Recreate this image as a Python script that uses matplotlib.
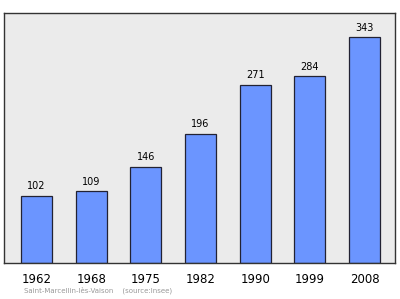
import numpy as np
import matplotlib.pyplot as plt

years = ['1962', '1968', '1975', '1982', '1990', '1999', '2008']
population = [102, 109, 146, 196, 271, 284, 343]

ind = np.arange(len(years))

fig = plt.figure(figsize=(4, 2.99), dpi=100)
ax = fig.add_axes([0.01, 0.1204, 0.9775, 0.8361])
ax.set_facecolor('#ebebeb')

ax.bar(ind, population, 0.57, color='#6b95ff', edgecolor='#222233', linewidth=0.9)

for x, v in zip(ind, population):
    ax.text(x, v + 7, str(v), ha='center', va='bottom', fontsize=7)

ax.set_xlim(-0.594, 6.558)
ax.set_ylim(0, 380)
ax.set_yticks([])
ax.set_xticks(ind)
ax.set_xticklabels(years, fontsize=8.5)
ax.tick_params(axis='x', length=0, pad=7)
for s in ax.spines.values():
    s.set_color('#333333')
    s.set_linewidth(1.0)

fig.text(0.06, 0.022, 'Saint-Marcellin-lès-Vaison    (source:Insee)', fontsize=5, color='#999999')

fig.savefig('out.png', dpi=100)
